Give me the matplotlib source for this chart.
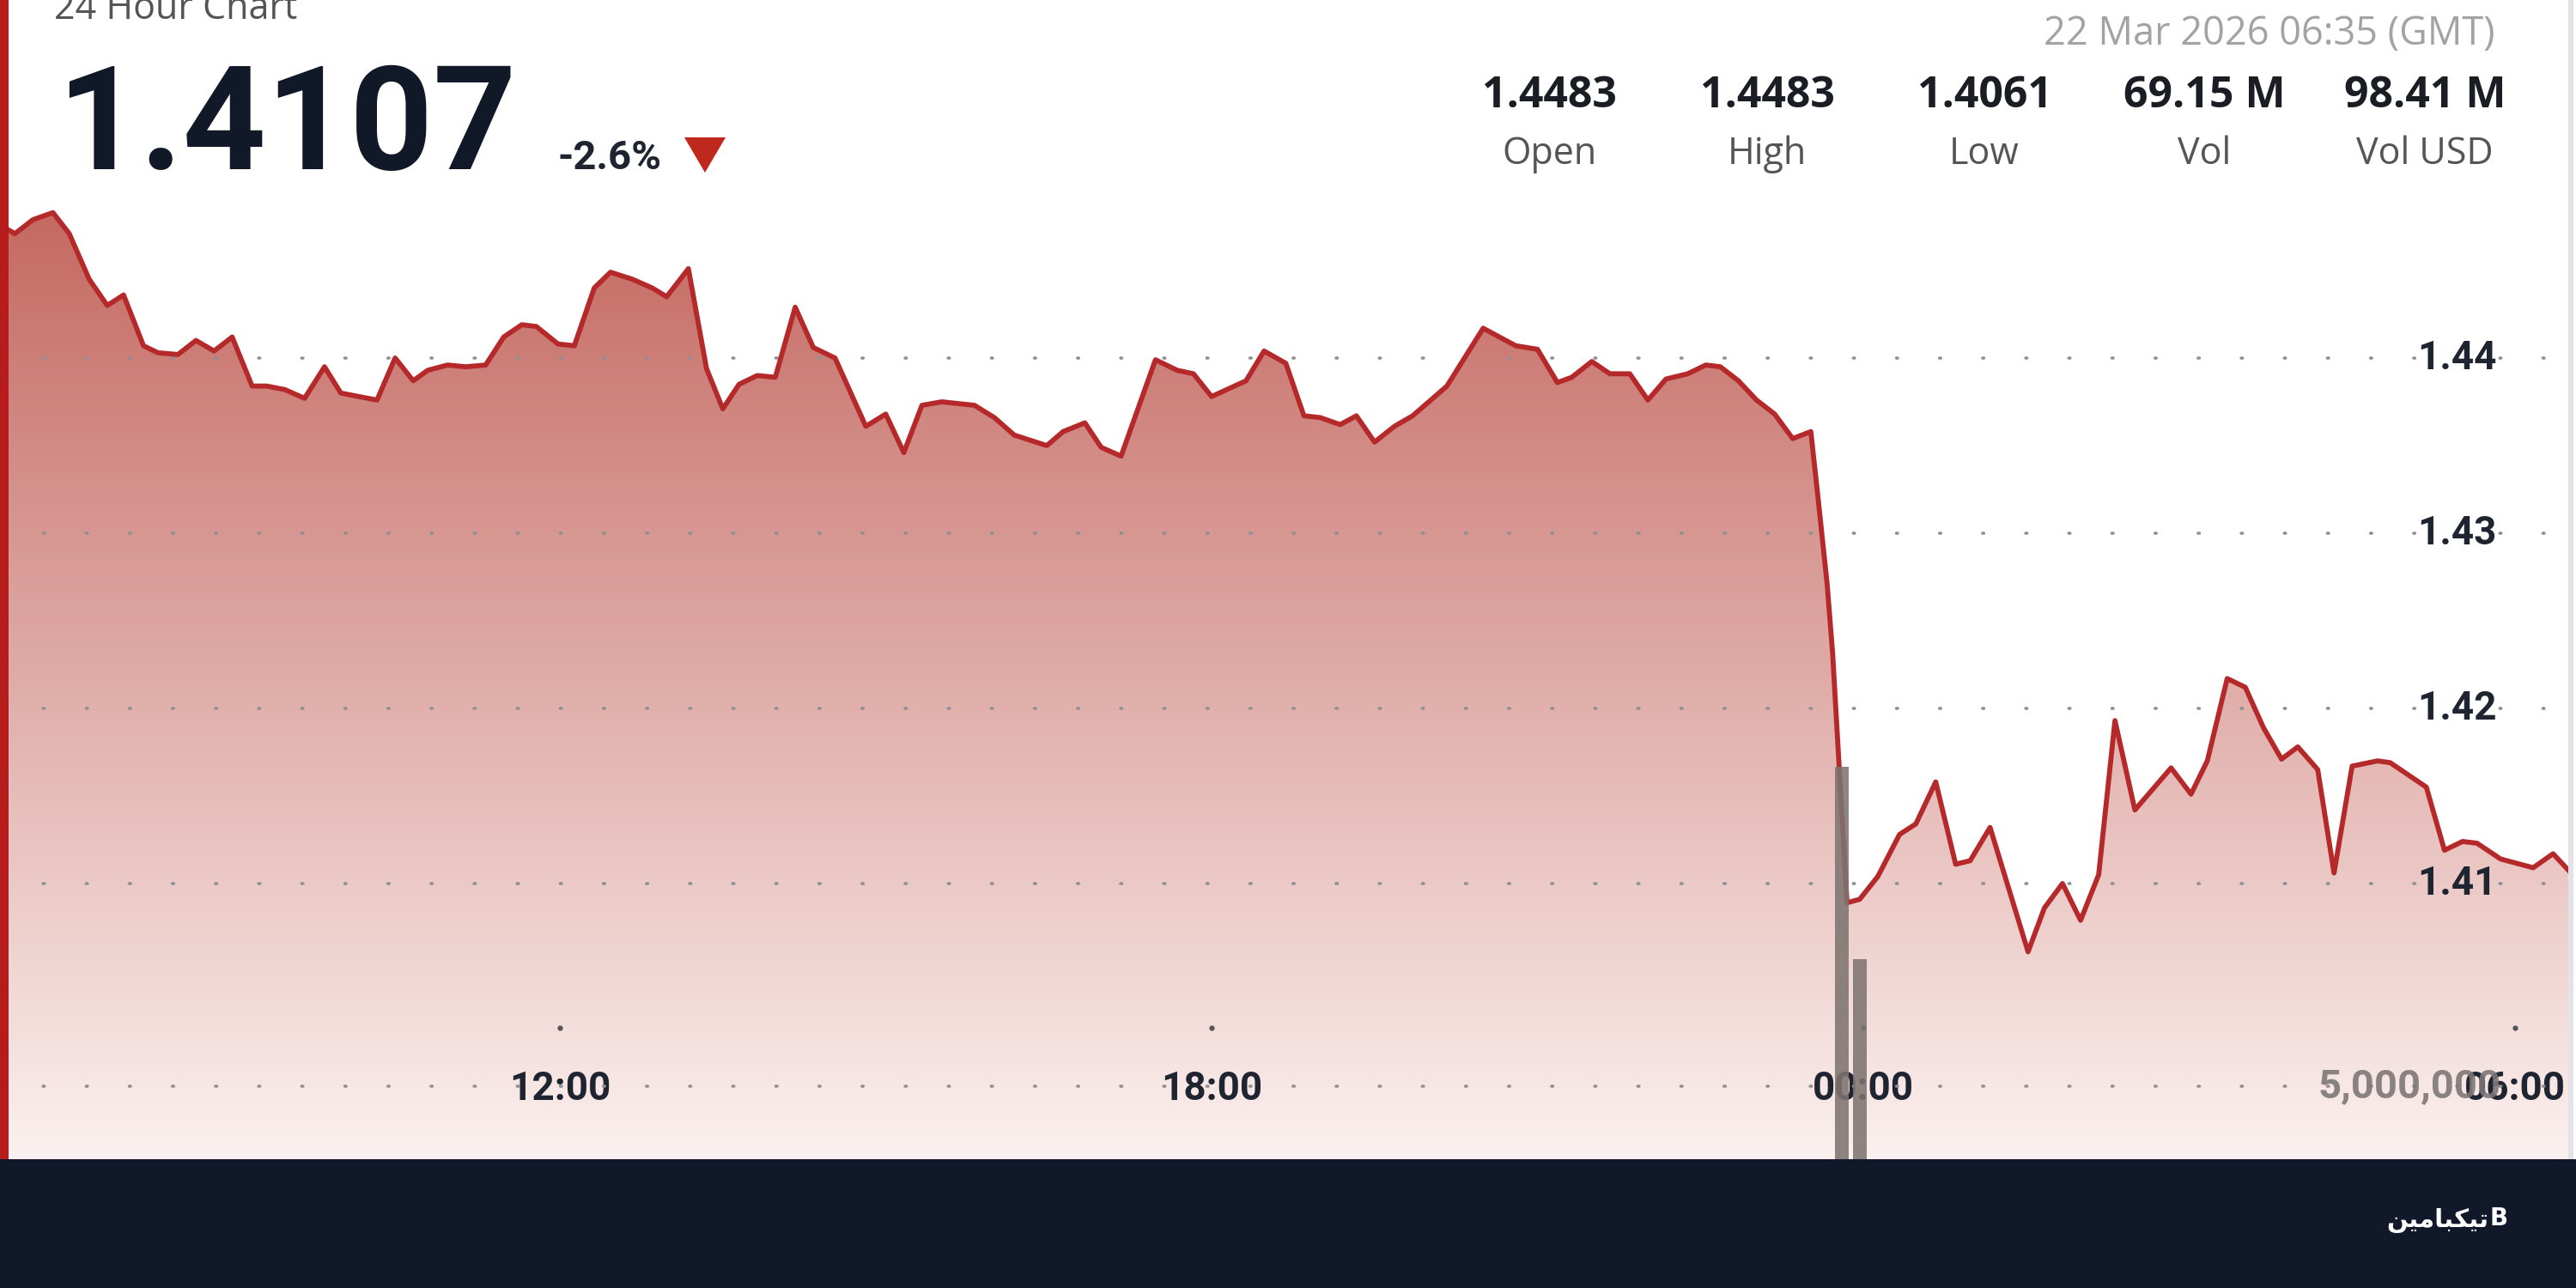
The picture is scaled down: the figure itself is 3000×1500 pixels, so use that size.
import numpy as np
import matplotlib
matplotlib.use("Agg")
import matplotlib.pyplot as plt
from matplotlib.patches import Rectangle, Polygon

# ---------------- data ----------------
times = ["06:54","06:59","07:09","07:20","07:29","07:40","07:50","07:59","08:10","08:18",
         "08:29","08:39","08:49","08:59","09:10","09:18","09:28","09:39","09:50","09:59",
         "10:09","10:19","10:29","10:39","10:47","10:58","11:08","11:19","11:29","11:39",
         "11:47","11:59","12:08","12:19","12:28","12:40","12:51","12:59","13:11","13:21",
         "13:30","13:39","13:49","13:59","14:10","14:20","14:32","14:49","15:00","15:10",
         "15:20","15:31","15:49","16:00","16:11","16:29","16:38","16:50","16:59","17:10",
         "17:29","17:41","17:50","18:00","18:19","18:29","18:41","18:51","19:00","19:11",
         "19:20","19:30","19:41","19:51","20:00","20:10","20:30","20:48","21:00","21:11",
         "21:19","21:30","21:40","21:51","22:01","22:11","22:23","22:33","22:41","22:51",
         "23:01","23:11","23:21","23:31","23:35","23:40","23:43","23:51","23:58","00:08",
         "00:20","00:29","00:40","00:51","00:59","01:10","01:31","01:40","01:50","02:00",
         "02:10","02:19","02:30","02:50","03:01","03:10","03:21","03:31","03:41","03:51",
         "04:00","04:11","04:20","04:30","04:44","04:51","05:11","05:21","05:31","05:39",
         "05:52","06:10","06:21","06:30"]
prices = [1.4474,1.4471,1.4479,1.4483,1.4471,1.4445,1.4430,1.4436,1.4407,1.4403,
          1.4402,1.4410,1.4404,1.4412,1.4384,1.4384,1.4382,1.4377,1.4395,1.4380,
          1.4378,1.4376,1.4400,1.4387,1.4393,1.4396,1.4395,1.4396,1.4412,1.4419,
          1.4418,1.4408,1.4407,1.4440,1.4449,1.4445,1.4440,1.4435,1.4451,1.4394,
          1.4371,1.4385,1.4390,1.4389,1.4429,1.4406,1.4400,1.4361,1.4368,1.4346,
          1.4373,1.4375,1.4373,1.4366,1.4356,1.4350,1.4358,1.4363,1.4349,1.4344,
          1.4399,1.4393,1.4391,1.4378,1.4387,1.4404,1.4397,1.4367,1.4366,1.4362,
          1.4367,1.4352,1.4361,1.4367,1.4375,1.4384,1.4417,1.4407,1.4405,1.4386,
          1.4389,1.4398,1.4391,1.4391,1.4376,1.4388,1.4391,1.4396,1.4395,1.4387,
          1.4376,1.4368,1.4354,1.4358,1.4320,1.4271,1.4232,1.4089,1.4091,1.4104,
          1.4128,1.4134,1.4158,1.4111,1.4113,1.4132,1.4061,1.4086,1.4100,1.4079,
          1.4105,1.4193,1.4142,1.4166,1.4151,1.4170,1.4217,1.4212,1.4189,1.4171,
          1.4178,1.4165,1.4106,1.4167,1.4170,1.4169,1.4155,1.4119,1.4124,1.4123,
          1.4114,1.4109,1.4117,1.4107]

vol_times = ["23:48", "23:58"]
vol_values = [26.9e6, 13.7e6]

price_ticks = [1.41, 1.42, 1.43, 1.44]
price_tick_labels = ["1.41", "1.42", "1.43", "1.44"]
time_ticks = ["12:00", "18:00", "00:00", "06:00"]
vol_tick = 5_000_000
vol_tick_label = "5,000,000"

last_price = "1.4107"
change_text = "-2.6%"
title_text = "24 Hour Chart"
date_text = "22 Mar 2026 06:35 (GMT)"
stat_values = ["1.4483", "1.4483", "1.4061", "69.15 M", "98.41 M"]
stat_labels = ["Open", "High", "Low", "Vol", "Vol USD"]
# logo word (تیکبامین) in Arabic presentation forms, visual order
logo_text = "\uFEE6\uFBFF\uFEE3\uFE8E\uFE92\uFB91\uFBFF\uFE97"


def to_hours(seq, start=6.0):
    out, prev, off = [], start, 0.0
    for s in seq:
        h, m = map(int, s.split(":"))
        val = h + m / 60.0 + off
        if val < prev - 1:
            off += 24.0
            val += 24.0
        out.append(val)
        prev = val
    return np.array(out)


t = to_hours(times)
v = np.array(prices)
tv = to_hours(vol_times, start=20.0)
tt = to_hours(time_ticks, start=6.0)

W, H = 3000, 1500
fig = plt.figure(figsize=(30, 15), dpi=100)
fig.patch.set_facecolor("white")


def fx(x):
    return x / W


def fy(y):
    return 1 - y / H


# ---------------- main axes ----------------
ax = fig.add_axes([0, 150 / H, 1, 1350 / H])
ax.set_axis_off()
XL = (6.8458, 30.561)
YL = (1.39426, 1.46044)
ax.set_xlim(*XL)
ax.set_ylim(*YL)

# gradient fill under the line
poly = ax.fill_between(t, v, YL[0], facecolor="none", edgecolor="none")
n = 400
fr = np.linspace(0, 1, n)
top_c = np.array([0.77, 0.41, 0.38])
bot_c = np.array([0.985, 0.945, 0.94])
k = np.clip(fr / 0.822, 0, 1)[:, None]
grad = bot_c + k * (top_c - bot_c)
img = np.repeat(grad[:, None, :], 2, axis=1)
im = ax.imshow(img, extent=[XL[0], XL[1], YL[0], YL[1]], origin="lower",
               aspect="auto", zorder=1, interpolation="bilinear")
im.set_clip_path(poly.get_paths()[0], transform=ax.transData)

# dotted price grid
for p in price_ticks:
    ax.axhline(p, color="#8f8f96", lw=2.6, linestyle=(0, (0.4, 13.5)),
               dash_capstyle="round", zorder=2)

# price line
ax.plot(t, v, color="#b5292a", lw=4.2, zorder=4, solid_joinstyle="round")

# price tick labels
for p, lab in zip(price_ticks, price_tick_labels):
    ax.text(2908 / W, p, lab, transform=ax.get_yaxis_transform(),
            ha="right", va="center", fontsize=33, fontweight="bold",
            family="Roboto", color="#1e2430", zorder=6)

# time tick labels and tick dots
for x, lab in zip(tt, time_ticks):
    ax.text(x, (1350 - 1268) / 1350, lab, transform=ax.get_xaxis_transform(),
            ha="center", va="center", fontsize=33, fontweight="bold",
            family="Roboto", color="#1e2430", zorder=7)
    ax.plot([x], [(1350 - 1197) / 1350], transform=ax.get_xaxis_transform(),
            marker="o", ms=3.5, color="#555555", zorder=6, ls="none")

# ---------------- volume axes ----------------
ax2 = ax.twinx()
ax2.set_axis_off()
ax2.set_xlim(*XL)
ax2.set_ylim(0, 1350 / 85 * 5e6)
ax2.axhline(vol_tick, color="#8f8f96", lw=2.6, linestyle=(0, (0.4, 13.5)),
            dash_capstyle="round", zorder=2)
ax2.bar(tv, vol_values, width=0.125, color="#7e7470", alpha=0.88, zorder=3)
ax2.text(2913 / W, vol_tick, vol_tick_label, transform=ax2.get_yaxis_transform(),
         ha="right", va="center", fontsize=34, fontweight="bold",
         family="Roboto", color="#7c7777", alpha=0.9, zorder=5)

# ---------------- frame decorations ----------------
fig.patches.append(Rectangle((0, 150 / H), 10 / W, 1350 / H, transform=fig.transFigure,
                             facecolor="#b71c1c", edgecolor="none", zorder=10))
fig.patches.append(Rectangle((2991 / W, 150 / H), 6 / W, 1350 / H, transform=fig.transFigure,
                             facecolor="#e4e2e8", edgecolor="none", zorder=10))
fig.patches.append(Rectangle((0, 0), 1, 150 / H, transform=fig.transFigure,
                             facecolor="#10182a", edgecolor="none", zorder=10))

# ---------------- header ----------------
fig.text(fx(63), fy(22), title_text, ha="left", va="baseline", fontsize=31,
         family="Open Sans", color="#555555")
fig.text(fx(66), fy(197), last_price, ha="left", va="baseline", fontsize=122,
         fontweight="bold", family="Roboto", color="#111827")
fig.text(fx(650), fy(197), change_text, ha="left", va="baseline", fontsize=34,
         fontweight="bold", family="Roboto", color="#1e2430")
fig.patches.append(Polygon([(fx(797), fy(160)), (fx(845), fy(160)), (fx(821), fy(201))],
                           closed=True, transform=fig.transFigure,
                           facecolor="#c0281e", edgecolor="none"))
fig.text(fx(2906), fy(40), date_text, ha="right", va="center", fontsize=32.5,
         family="Open Sans", color="#a3a3a3")
stat_x = [1804, 2058, 2311, 2567, 2824]
for x, val, lab in zip(stat_x, stat_values, stat_labels):
    fig.text(fx(x), fy(112), val, ha="center", va="center", fontsize=36,
             fontweight="bold", family="Open Sans", color="#1a1d24")
    fig.text(fx(x), fy(180), lab, ha="center", va="center", fontsize=31,
             family="Open Sans", color="#555555")

# logo in footer
fig.text(fx(2898), fy(1421), logo_text, ha="right", va="center", fontsize=21,
         fontweight="bold", family="DejaVu Sans", color="white", zorder=11)
fig.text(fx(2900), fy(1419), "B", ha="left", va="center", fontsize=20,
         fontweight="bold", family="DejaVu Sans", color="white", zorder=11)

fig.savefig("out.png", dpi=100)
